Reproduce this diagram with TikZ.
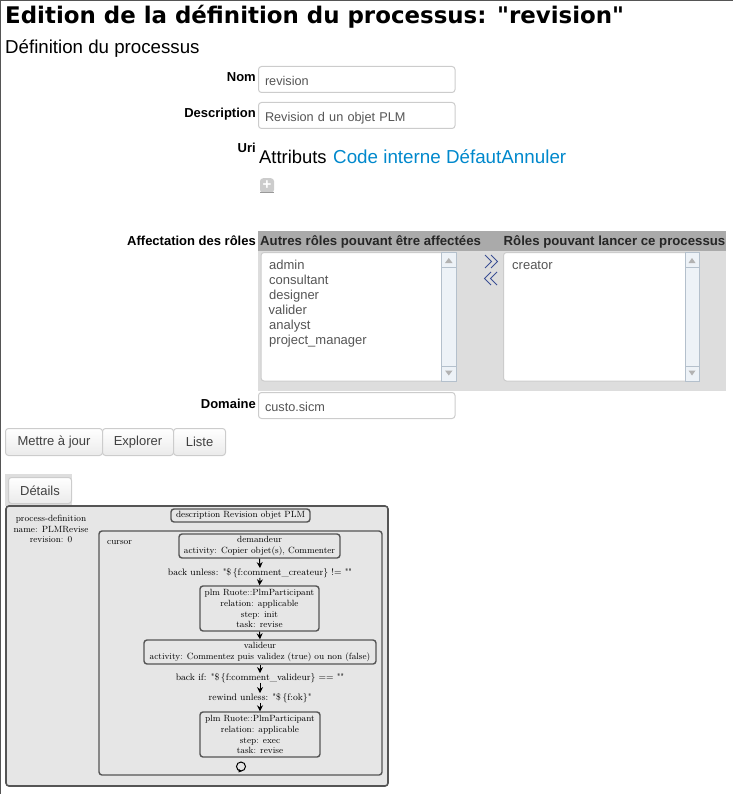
\documentclass[tikz,border=0pt]{standalone}
\usepackage{fontspec}
\setmainfont{Liberation Sans}
\newfontfamily\headfont{DejaVu Sans}
\newfontfamily\graphfont{Latin Modern Roman}
\usetikzlibrary{arrows.meta}
\definecolor{inkgray}{HTML}{555555}
\definecolor{linkblue}{HTML}{0088CC}
\definecolor{bandhead}{HTML}{AAAAAA}
\definecolor{bandbody}{HTML}{DDDDDD}
\definecolor{fieldline}{HTML}{CCCCCC}
\definecolor{graphline}{HTML}{555555}
\definecolor{graphfill}{HTML}{E6E6E6}
\definecolor{scrollfill}{HTML}{EDF2F7}
\definecolor{scrollline}{HTML}{B4C0CC}
\definecolor{swapblue}{HTML}{3B4F94}
\tikzset{
  flabel/.style={anchor=east,inner sep=0pt,text height=10pt,text depth=3pt,font=\fontsize{13}{15}\selectfont\bfseries},
  field/.style={draw=fieldline,fill=white,rounded corners=3pt,line width=1pt,minimum width=196.5pt,minimum height=26pt,anchor=north west,inner sep=0pt,inner xsep=6.5pt,align=left,text=inkgray,text height=13.5pt,text depth=2pt,font=\fontsize{12.7}{15}\selectfont,text width=183.5pt},
  listbox/.style={draw=fieldline,fill=white,rounded corners=3pt,line width=1pt,anchor=north west,inner sep=0pt},
  listitem/.style={anchor=west,inner sep=0pt,text=inkgray,text height=11pt,text depth=3pt,font=\fontsize{13}{15}\selectfont},
  bandtitle/.style={anchor=west,inner sep=0pt,text height=10pt,text depth=3pt,font=\fontsize{13.2}{15}\selectfont\bfseries,text=black!85},
  webbutton/.style={draw=fieldline,top color=white,bottom color=black!8,rounded corners=3pt,line width=1pt,anchor=north west,minimum height=27pt,inner sep=0pt,text=black!75,font=\fontsize{13}{15}\selectfont},
  gbox/.style={draw=graphline,fill=graphfill,rounded corners=3pt,line width=1.4pt,inner sep=0pt,align=center,font=\graphfont\fontsize{9}{10.9}\selectfont},
  gtext/.style={inner sep=0pt,align=center,font=\graphfont\fontsize{9}{10.9}\selectfont},
  gquote/.style={inner sep=0pt,align=center,font=\graphfont\fontsize{9.4}{10.9}\selectfont},
  garrow/.style={-{Stealth[length=6pt,width=6pt]},line width=1pt}
}
\begin{document}
\begin{tikzpicture}[x=1pt,y=-1pt]
  \useasboundingbox (0,0) rectangle (733,794);
  \draw[inkgray,line width=1pt] (0,794) -- (0,0.5) -- (733,0.5);

  \node (pagetitle) at (5,17) [anchor=west,inner sep=0pt,font=\headfont\fontsize{22.9}{28}\selectfont\bfseries] {Edition de la définition du processus: "revision"};
  \node (subtitle) at (5,49) [anchor=west,inner sep=0pt,font=\fontsize{18.7}{21}\selectfont] {Définition du processus};

  \node (nomlabel) at (256,78) [flabel] {Nom};
  \node (nomfield) at (258,66) [field] {revision};
  \node (desclabel) at (256,113.8) [flabel] {Description};
  \node (descfield) at (258,102) [field] {Revision d un objet PLM};
  \node (urilabel) at (256,149.5) [flabel] {Uri};
  \node (attrtext) at (259,157) [anchor=west,inner sep=0pt,font=\fontsize{18.4}{21}\selectfont] {Attributs};
  \node (codetext) at (333,157) [anchor=west,inner sep=0pt,text=linkblue,font=\fontsize{18.8}{21}\selectfont] {Code interne DéfautAnnuler};
  \node (addicon) at (267,185.5) [rectangle,rounded corners=3pt,fill=black!20,minimum width=14pt,minimum height=14.5pt,inner sep=0pt,text=white,font=\fontsize{15}{15}\selectfont\bfseries] {+};
  \draw[black!40,line width=1pt] (260,193) -- (274,193);

  % roles band
  \fill[bandbody] (258,251) rectangle (726,391);
  \fill[bandhead] (258,231) rectangle (726,251);
  \node (rolelabel) at (256,242) [flabel] {Affectation des rôles};
  \node (lefttitle) at (260,242) [bandtitle] {Autres rôles pouvant être affectées};
  \node (righttitle) at (503.5,242) [bandtitle] {Rôles pouvant lancer ce processus};
  \draw[listbox] (261,252.5) rectangle (456,381);
  \draw[listbox] (503.5,252.5) rectangle (699,381);

  \draw[scrollline,fill=scrollfill] (441.5,252.5) rectangle (456,381);
  \draw[scrollline] (441.5,267) -- (456,267) (441.5,366) -- (456,366);
  \fill[black!30] (445,263) -- (452.5,263) -- (448.75,258) -- cycle;
  \fill[black!30] (445,370.5) -- (452.5,370.5) -- (448.75,375.5) -- cycle;
  \draw[scrollline,fill=scrollfill] (685,252.5) rectangle (699,381);
  \draw[scrollline] (685,267) -- (699,267) (685,366) -- (699,366);
  \fill[black!30] (688.5,263) -- (695.5,263) -- (692,258) -- cycle;
  \fill[black!30] (688.5,370.5) -- (695.5,370.5) -- (692,375.5) -- cycle;

  \node (roleadmin) at (269,265) [listitem] {admin};
  \node (roleconsult) at (269,280) [listitem] {consultant};
  \node (roledesign) at (269,295) [listitem] {designer};
  \node (rolevalid) at (268.5,310) [listitem] {valider};
  \node (roleanalyst) at (269,325) [listitem] {analyst};
  \node (rolemanager) at (269,340) [listitem] {project\_manager};
  \node (rolecreator) at (512,265) [listitem] {creator};

  \draw[swapblue,line width=1pt] (485,255) -- (491.5,261.5) -- (485,268) (491,255) -- (497.5,261.5) -- (491,268);
  \draw[swapblue,line width=1pt] (491,272) -- (484.5,278.5) -- (491,285) (497,272) -- (490.5,278.5) -- (497,285);

  \node (domlabel) at (256,404.5) [flabel] {Domaine};
  \node (domfield) at (258,392) [field] {custo.sicm};

  \node (savebtn) at (5,428) [webbutton,minimum width=97pt] {Mettre à jour};
  \node (explorebtn) at (102,428) [webbutton,minimum width=71pt] {Explorer};
  \node (listbtn) at (173,428) [webbutton,minimum width=52pt] {Liste};

  \fill[black!13] (5,474) rectangle (72,506);
  \node (detailbtn) at (8,477) [webbutton,minimum width=63pt,minimum height=26pt] {Détails};

  % process graph
  \draw[graphline,fill=graphfill,rounded corners=3pt,line width=1.6pt] (6,506) rectangle (388,786);
  \draw[graphline,fill=graphfill,rounded corners=3pt,line width=1.4pt] (99,531) rectangle (382,775);

  \node (procname) at (51,529) [gtext] {process-definition\\name: PLMRevise\\revision: 0};
  \node (desc) at (240.5,515.5) [gbox,minimum width=139pt,minimum height=13pt] {description Revision objet PLM};
  \node (cursorname) at (107,543) [gtext,anchor=west] {cursor};
  \node (demandeur) at (259.5,546) [gbox,minimum width=161pt,minimum height=24pt] {demandeur\\activity: Copier objet(s), Commenter};
  \node (backunless) at (260,573) [gquote] {back unless: "\$\,\{f:comment\_createur\} != ""};
  \node (plminit) at (259.5,608.5) [gbox,minimum width=119pt,minimum height=45pt] {plm Ruote::PlmParticipant\\relation: applicable\\step: init\\task: revise};
  \node (valideur) at (260,652) [gbox,minimum width=232pt,minimum height=24pt] {valideur\\activity: Commentez puis validez (true) ou non (false)};
  \node (backif) at (260,678) [gquote] {back if: "\$\,\{f:comment\_valideur\} == ""};
  \node (rewind) at (260,698) [gquote] {rewind unless: "\$\,\{f:ok\}"};
  \node (plmexec) at (260,734.5) [gbox,minimum width=120pt,minimum height=45pt] {plm Ruote::PlmParticipant\\relation: applicable\\step: exec\\task: revise};
  \node (loopmark) at (241,766.5) [circle,draw,line width=1pt,minimum size=9pt,inner sep=0pt] {};

  \draw[garrow] (demandeur.south) -- (backunless.north);
  \draw[garrow] (backunless.south) -- (plminit.north);
  \draw[garrow] (plminit.south) -- (valideur.north);
  \draw[garrow] (valideur.south) -- (backif.north);
  \draw[garrow] (backif.south) -- (rewind.north);
  \draw[garrow] (rewind.south) -- (plmexec.north);
  \fill (238.5,769) -- (242,771) -- (238.5,772.5) -- cycle;
\end{tikzpicture}
\end{document}
